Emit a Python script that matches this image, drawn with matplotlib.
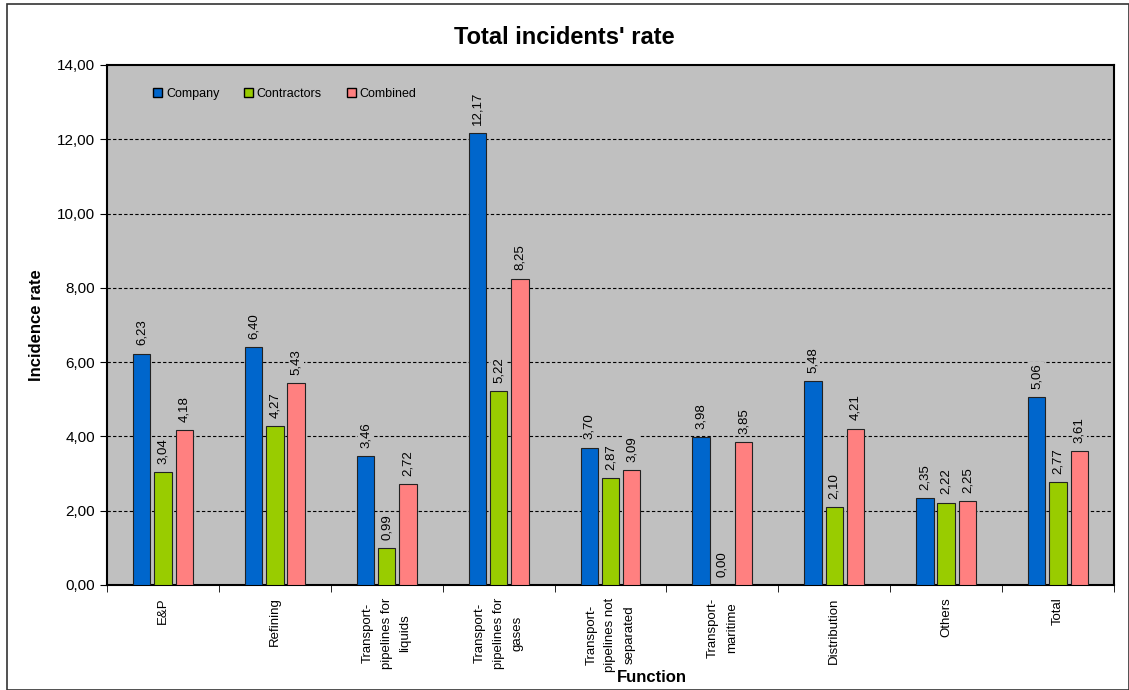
import numpy as np
import matplotlib.pyplot as plt
from matplotlib.patches import Rectangle, Patch

plt.rcParams['font.family'] = ['Liberation Sans', 'DejaVu Sans']

functions = ["E&P", "Refining", "Transport-\npipelines for\nliquids",
             "Transport-\npipelines for\ngases", "Transport-\npipelines not\nseparated",
             "Transport-\nmaritime", "Distribution", "Others", "Total"]
company = [6.23, 6.40, 3.46, 12.17, 3.70, 3.98, 5.48, 2.35, 5.06]
contractors = [3.04, 4.27, 0.99, 5.22, 2.87, 0.00, 2.10, 2.22, 2.77]
combined = [4.18, 5.43, 2.72, 8.25, 3.09, 3.85, 4.21, 2.25, 3.61]

series = [("Company", company, "#0066CC"),
          ("Contractors", contractors, "#99CC00"),
          ("Combined", combined, "#FF8080")]

fig = plt.figure(figsize=(11.29, 6.9), dpi=100)
fig.patches.append(Rectangle((7 / 1129, 0), 1 - 7 / 1129, 1 - 4 / 690, transform=fig.transFigure,
                             fill=False, edgecolor="#333333", linewidth=1.2))
ax = fig.add_axes([107 / 1129, 1 - 585 / 690, 1007 / 1129, 520 / 690])
ax.set_facecolor("#C0C0C0")

x = np.arange(len(functions))
w = 0.155
step = 0.19
for i, (name, vals, col) in enumerate(series):
    pos = x + (i - 1) * step
    ax.bar(pos, vals, width=w, color=col, edgecolor="#222222", linewidth=0.8, zorder=3)
    for p, v in zip(pos, vals):
        ax.text(p, v + 0.22, f"{v:.2f}".replace(".", ","), rotation=90, ha="center", va="bottom",
                fontsize=9.5, zorder=4,
                bbox=dict(facecolor="#C0C0C0", edgecolor="none", pad=1))

ax.set_xlim(-0.5, len(functions) - 0.5)
ax.set_ylim(0, 14)
ax.set_yticks(np.arange(0, 15, 2))
ax.set_yticklabels([f"{v:.2f}".replace(".", ",") for v in np.arange(0, 15, 2)], fontsize=11)
for g in range(2, 14, 2):
    ax.axhline(g, color="black", linestyle=(0, (3, 2)), linewidth=0.8, zorder=1)

ax.set_xticks(x)
ax.set_xticklabels(functions, rotation=90, fontsize=9.5, ha="center", va="top",
                   multialignment="center", linespacing=1.75)
ax.tick_params(axis="x", length=0, pad=9)
ax.set_xticks(np.arange(-0.5, len(functions)), minor=True)
ax.tick_params(axis="x", which="minor", length=5, direction="out")
ax.tick_params(axis="y", length=5, direction="out")
for s in ax.spines.values():
    s.set_linewidth(1.5)

ax.set_ylabel("Incidence rate", fontsize=12, fontweight="bold")
ax.yaxis.set_label_coords(-0.063, 0.5)
ax.set_xlabel("Function", fontsize=12, fontweight="bold")
ax.xaxis.set_label_coords(0.541, -0.163)
fig.text(0.5, 1 - 37 / 690, "Total incidents' rate", ha="center", va="center",
         fontsize=17, fontweight="bold")

handles = [Patch(facecolor=c, edgecolor="black", label=n) for n, _, c in series]
ax.legend(handles=handles, loc="upper left", bbox_to_anchor=(0.035, 0.978), ncol=3, frameon=False,
          fontsize=9, handlelength=0.7, handleheight=0.7, handletextpad=0.3, columnspacing=2.0)

fig.savefig("out.png", dpi=100)
